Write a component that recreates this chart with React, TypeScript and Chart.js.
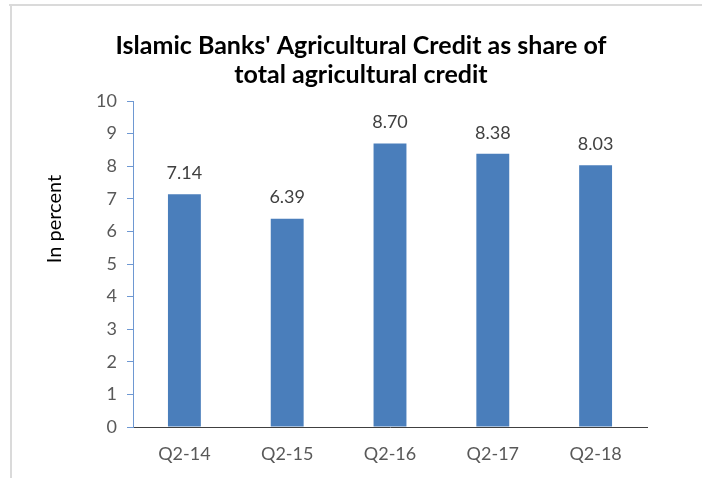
import React, { useEffect, useRef } from "react";
import { Chart, registerables } from "chart.js";

Chart.register(...registerables);

const categories = ["Q2-14", "Q2-15", "Q2-16", "Q2-17", "Q2-18"];
const shareValues = [7.14, 6.39, 8.7, 8.38, 8.03];
const titleLines = ["Islamic Banks' Agricultural Credit as share of", "total agricultural credit"];
const yAxisTitle = "In percent";

const FONT = "Lato, 'Open Sans', sans-serif";

const decorPlugin = {
  id: "decor",
  beforeDraw(chart: any) {
    const ctx = chart.ctx;
    ctx.save();
    ctx.strokeStyle = "#DADADA";
    ctx.lineWidth = 2;
    ctx.beginPath();
    ctx.moveTo(9, 5);
    ctx.lineTo(chart.width, 5);
    ctx.moveTo(11, 5);
    ctx.lineTo(11, chart.height);
    ctx.stroke();
    ctx.restore();
  },
  afterDraw(chart: any) {
    const ctx = chart.ctx;
    const area = chart.chartArea;
    // title
    ctx.save();
    ctx.font = `bold 25px ${FONT}`;
    ctx.fillStyle = "#000";
    ctx.textAlign = "center";
    ctx.textBaseline = "middle";
    titleLines.forEach((line, i) => {
      ctx.fillText(line, 361, 46 + i * 29);
    });
    ctx.restore();
    // axis title
    ctx.save();
    ctx.translate(area.left - 78, area.top + (area.bottom - area.top) * 0.362);
    ctx.rotate(-Math.PI / 2);
    ctx.font = `20px ${FONT}`;
    ctx.fillStyle = "#000";
    ctx.textAlign = "center";
    ctx.textBaseline = "middle";
    ctx.fillText(yAxisTitle, 0, 0);
    ctx.restore();
    // data labels
    ctx.save();
    ctx.font = `18px ${FONT}`;
    ctx.fillStyle = "#404040";
    ctx.textAlign = "center";
    ctx.textBaseline = "middle";
    const meta = chart.getDatasetMeta(0);
    meta.data.forEach((bar: any, i: number) => {
      ctx.fillText(shareValues[i].toFixed(2), bar.x, bar.y - 21);
    });
    ctx.restore();
  },
};

export default function App() {
  const ref = useRef<HTMLCanvasElement>(null);
  useEffect(() => {
    if (!ref.current) return;
    const chart = new Chart(ref.current, {
      type: "bar",
      data: {
        labels: categories,
        datasets: [
          {
            data: shareValues,
            backgroundColor: "#4A7EBB",
            borderWidth: 0,
            categoryPercentage: 1,
            barPercentage: 0.32,
          },
        ],
      },
      plugins: [decorPlugin],
      options: {
        animation: false,
        responsive: false,
        devicePixelRatio: 1,
        layout: { padding: { left: 20, right: 55, top: 101, bottom: 0 } },
        plugins: {
          legend: { display: false },
          tooltip: { enabled: false },
          title: { display: false },
        },
        scales: {
          x: {
            grid: { display: false, drawTicks: false },
            border: { display: true, color: "#404040", width: 1 },
            ticks: { color: "#595959", font: { family: FONT, size: 18 }, padding: 16 },
            afterFit(scale: any) {
              scale.height = 51;
            },
          },
          y: {
            min: 0,
            max: 10,
            ticks: { stepSize: 1, color: "#595959", font: { family: FONT, size: 18 }, padding: 10 },
            grid: { drawOnChartArea: false, drawTicks: true, tickLength: 6, color: "#6E98D2" },
            border: { display: true, color: "#6E98D2", width: 1 },
            afterFit(scale: any) {
              scale.width = 113;
            },
          },
        },
      },
    });
    return () => chart.destroy();
  }, []);
  return (
    <div style={{ position: "fixed", left: 0, top: 0, width: 702, height: 478, background: "#fff" }}>
      <canvas ref={ref} width={702} height={478} style={{ width: 702, height: 478 }} />
    </div>
  );
}
